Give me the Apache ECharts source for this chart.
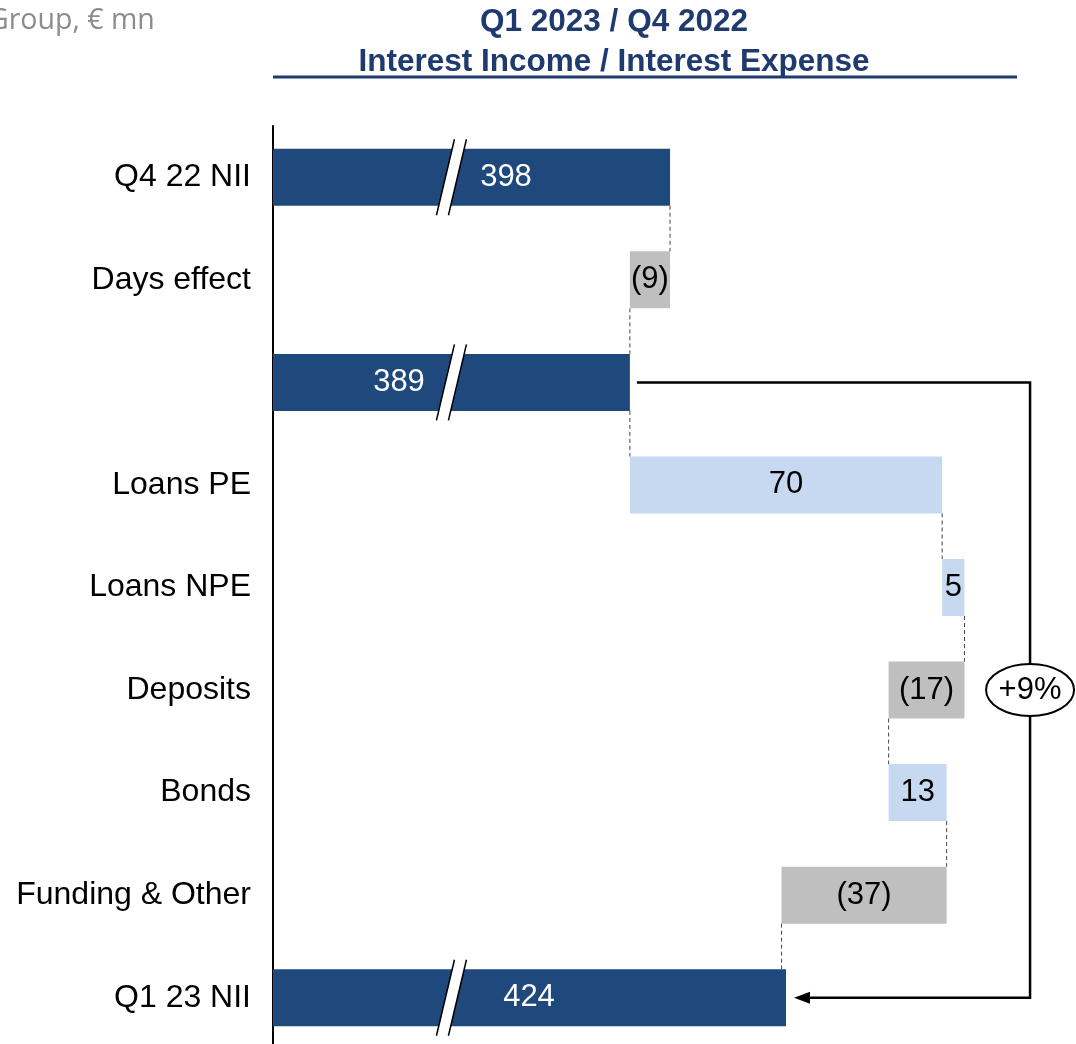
<!DOCTYPE html>
<html>
<head>
<meta charset="utf-8">
<script src="https://cdn.jsdelivr.net/npm/echarts@6/dist/echarts.min.js"></script>
<style>
html, body { margin: 0; padding: 0; background: #fff; overflow: hidden; }
#chart { width: 1076px; height: 1049px; }
</style>
</head>
<body>
<div id="chart"></div>
<script>
// waterfall data, Group, EUR mn
var categories = ['Q4 22 NII', 'Days effect', '', 'Loans PE', 'Loans NPE', 'Deposits', 'Bonds', 'Funding & Other', 'Q1 23 NII'];
var values = [398, -9, 389, 70, 5, -17, 13, -37, 424];
var isTotal = [true, false, true, false, false, false, false, false, true];
var breakRows = [0, 2, 8];   // bars drawn with an axis break
var breakAt = 349;
var growthLabel = '+9%';

var X_MIN = 309, X_MAX = 489;
var bracketX = 478.7;   // where the +9% bracket runs (axis units)

var NAVY = '#1F497D', LIGHT = '#C6D9F1', GREY = '#BFBFBF', TITLE = '#1F3A6E';
var FONT = 'Liberation Sans, Arial, sans-serif';
var BAR_W = 57;

// build stacked base / length from the values
var base = [], len = [], colors = [], ends = [];
var run = 0;
values.forEach(function (v, i) {
  if (isTotal[i]) {
    base.push(X_MIN); len.push(v - X_MIN); run = v; colors.push(NAVY);
  } else {
    var lo = Math.min(run, run + v);
    base.push(lo); len.push(Math.abs(v)); run += v;
    colors.push(v < 0 ? GREY : LIGHT);
  }
  ends.push(run);
});

var totalLabelX = { 0: 233, 2: 126, 8: 256 }; // label centre inside broken bars

var barData = len.map(function (l, i) {
  var item = { value: l, itemStyle: { color: colors[i] } };
  if (isTotal[i]) {
    item.label = { color: '#fff', position: [totalLabelX[i], '50%'], align: 'center', verticalAlign: 'middle' };
  }
  return item;
});

var connectors = [];
for (var i = 0; i < values.length - 1; i++) connectors.push([ends[i], i]);

var chart = echarts.init(document.getElementById('chart'));

chart.setOption({
  animation: false,
  title: {
    text: 'Q1 2023 / Q4 2022\nInterest Income / Interest Expense',
    left: 614, top: 2, padding: 0, textAlign: 'center',
    textStyle: { fontFamily: FONT, fontSize: 31.5, fontWeight: 'bold', color: TITLE, lineHeight: 40 }
  },
  graphic: [
    { type: 'text', left: -12, top: 6, style: { text: 'Group, € mn', fontFamily: 'Open Sans, sans-serif', fontSize: 28.5, fill: '#8C8C8C' } },
    { type: 'line', shape: { x1: 273, y1: 77, x2: 1017, y2: 77 }, style: { stroke: TITLE, lineWidth: 3 } }
  ],
  grid: { left: 273, top: 126, right: 0, bottom: 0 },
  xAxis: {
    type: 'value', min: X_MIN, max: X_MAX,
    axisLine: { show: false }, axisTick: { show: false }, axisLabel: { show: false }, splitLine: { show: false }
  },
  yAxis: {
    type: 'category', inverse: true, data: categories,
    axisLine: { lineStyle: { color: '#000', width: 2 } },
    axisTick: { show: false },
    axisLabel: { fontFamily: FONT, fontSize: 32, color: '#000', margin: 22 }
  },
  series: [
    {
      type: 'bar', stack: 'wf', data: base, barWidth: BAR_W,
      itemStyle: { color: 'transparent' }, silent: true
    },
    {
      type: 'bar', stack: 'wf', data: barData, barWidth: BAR_W,
      label: {
        show: true, position: 'inside', fontFamily: FONT, fontSize: 31, color: '#000',
        formatter: function (p) {
          var v = values[p.dataIndex];
          return v < 0 ? '(' + (-v) + ')' : String(v);
        }
      }
    },
    {
      // dashed connectors between bars
      type: 'custom', z: 4, data: connectors, encode: { x: 0, y: 1 },
      renderItem: function (params, api) {
        var x = api.value(0), r = api.value(1);
        var p1 = api.coord([x, r]), p2 = api.coord([x, r + 1]);
        return {
          type: 'line',
          shape: { x1: p1[0], y1: p1[1] + BAR_W / 2, x2: p2[0], y2: p2[1] - BAR_W / 2 },
          style: { stroke: '#444', lineWidth: 1, lineDash: [4, 3] }
        };
      }
    },
    {
      // axis break marks
      type: 'custom', z: 5,
      data: breakRows.map(function (r) { return [breakAt, r]; }), encode: { x: 0, y: 1 },
      renderItem: function (params, api) {
        var c = api.coord([api.value(0), api.value(1)]);
        var cx = c[0], cy = c[1], hh = 38, sl = 9, g = 6;
        return {
          type: 'group',
          children: [
            { type: 'polygon', shape: { points: [[cx - g - sl, cy + hh], [cx - g + sl, cy - hh], [cx + g + sl, cy - hh], [cx + g - sl, cy + hh]] }, style: { fill: '#fff' } },
            { type: 'line', shape: { x1: cx - g - sl, y1: cy + hh, x2: cx - g + sl, y2: cy - hh }, style: { stroke: '#000', lineWidth: 1.5 } },
            { type: 'line', shape: { x1: cx + g - sl, y1: cy + hh, x2: cx + g + sl, y2: cy - hh }, style: { stroke: '#000', lineWidth: 1.5 } }
          ]
        };
      }
    },
    {
      // +9% bracket from Q4 adjusted NII to Q1 NII
      type: 'custom', z: 5, data: [[bracketX, 5]], encode: { x: 0, y: 1 },
      renderItem: function (params, api) {
        var s = api.coord([values[2], 2]);
        var e = api.coord([values[8], 8]);
        var m = api.coord([api.value(0), api.value(1)]);
        var bx = m[0];
        return {
          type: 'group',
          children: [
            { type: 'polyline', shape: { points: [[s[0] + 7, s[1]], [bx, s[1]], [bx, e[1]], [e[0] + 20, e[1]]] }, style: { stroke: '#000', lineWidth: 2.5, fill: null } },
            { type: 'polygon', shape: { points: [[e[0] + 8, e[1]], [e[0] + 24, e[1] - 6], [e[0] + 24, e[1] + 6]] }, style: { fill: '#000' } },
            { type: 'ellipse', shape: { cx: bx, cy: m[1], rx: 44, ry: 26 }, style: { fill: '#fff', stroke: '#000', lineWidth: 2 } },
            { type: 'text', style: { text: growthLabel, x: bx, y: m[1], align: 'center', verticalAlign: 'middle', fontFamily: FONT, fontSize: 31, fill: '#000' } }
          ]
        };
      }
    }
  ]
});
</script>
</body>
</html>
